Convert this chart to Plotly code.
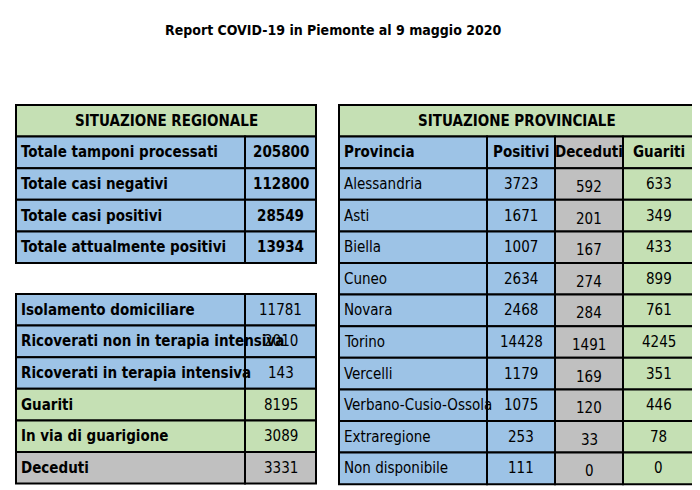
import plotly.graph_objects as go

reg_labels = ["Totale tamponi processati", "Totale casi negativi", "Totale casi positivi", "Totale attualmente positivi",
              "Isolamento domiciliare", "Ricoverati non in terapia intensiva", "Ricoverati in terapia intensiva",
              "Guariti", "In via di guarigione", "Deceduti"]
reg_values = [205800, 112800, 28549, 13934, 11781, 2010, 143, 8195, 3089, 3331]
province = ["Alessandria", "Asti", "Biella", "Cuneo", "Novara", "Torino", "Vercelli",
            "Verbano-Cusio-Ossola", "Extraregione", "Non disponibile"]
positivi = [3723, 1671, 1007, 2634, 2468, 14428, 1179, 1075, 253, 111]
deceduti = [592, 201, 167, 274, 284, 1491, 169, 120, 33, 0]
guariti = [633, 349, 433, 899, 761, 4245, 351, 446, 78, 0]

BLUE, GREEN, GRAY = "#9DC3E6", "#C5E0B4", "#C0C0C0"
FONT = "Liberation Sans Narrow, DejaVu Sans Condensed, sans-serif"
shapes, ann = [], []
def cell(x0, x1, y0, y1, fill, text, align="center", bold=False, dy=0):
    shapes.append(dict(type="rect", x0=x0, x1=x1, y0=y0, y1=y1, fillcolor=fill,
                       line=dict(color="black", width=2), layer="below"))
    t = f"<b>{text}</b>" if bold else str(text)
    if align == "left":
        ann.append(dict(x=x0 + 3, y=(y0 + y1) / 2 + dy, text=t, xanchor="left", showarrow=False))
    else:
        ann.append(dict(x=(x0 + x1) / 2, y=(y0 + y1) / 2 + dy, text=t, xanchor="center", showarrow=False))

H = 31.6
top = 97
# Left table
cell(8, 308, top, top + H, GREEN, "SITUAZIONE REGIONALE", bold=True)
ys = [top + H * (i + 1) for i in range(4)] + [286 + H * i for i in range(6)]
for i, (lab, v) in enumerate(zip(reg_labels, reg_values)):
    fill = BLUE if i < 7 else (GREEN if i < 9 else GRAY)
    y0 = ys[i]
    cell(8, 237, y0, y0 + H, fill, lab, align="left", bold=True)
    cell(237, 308, y0, y0 + H, fill, v, bold=(i < 4))
# Right table
cell(331, 686, top, top + H, GREEN, "SITUAZIONE PROVINCIALE", bold=True)
cols = [331, 479, 547, 615, 686]
y0 = top + H
cell(cols[0], cols[1], y0, y0 + H, BLUE, "Provincia", align="left", bold=True)
cell(cols[1], cols[2], y0, y0 + H, BLUE, "Positivi", bold=True)
cell(cols[2], cols[3], y0, y0 + H, GRAY, "Deceduti", bold=True)
cell(cols[3], cols[4], y0, y0 + H, GREEN, "Guariti", bold=True)
for i in range(len(province)):
    y0 = top + H * (i + 2)
    cell(cols[0], cols[1], y0, y0 + H, BLUE, province[i], align="left")
    cell(cols[1], cols[2], y0, y0 + H, BLUE, positivi[i])
    cell(cols[2], cols[3], y0, y0 + H, GRAY, deceduti[i], dy=3)
    cell(cols[3], cols[4], y0, y0 + H, GREEN, guariti[i])

ann.append(dict(x=325, y=22, text="<b>Report COVID-19 in Piemonte al 9 maggio 2020</b>",
                showarrow=False, font=dict(size=14)))

fig = go.Figure()
fig.update_layout(width=700, height=490, margin=dict(l=0, r=0, t=0, b=0),
                  plot_bgcolor="white", paper_bgcolor="white",
                  xaxis=dict(range=[0, 700], visible=False, fixedrange=True),
                  yaxis=dict(range=[490, 0], visible=False, fixedrange=True),
                  shapes=shapes, annotations=ann, showlegend=False,
                  font=dict(family=FONT, size=15, color="black"))
fig.write_html("out.html")
